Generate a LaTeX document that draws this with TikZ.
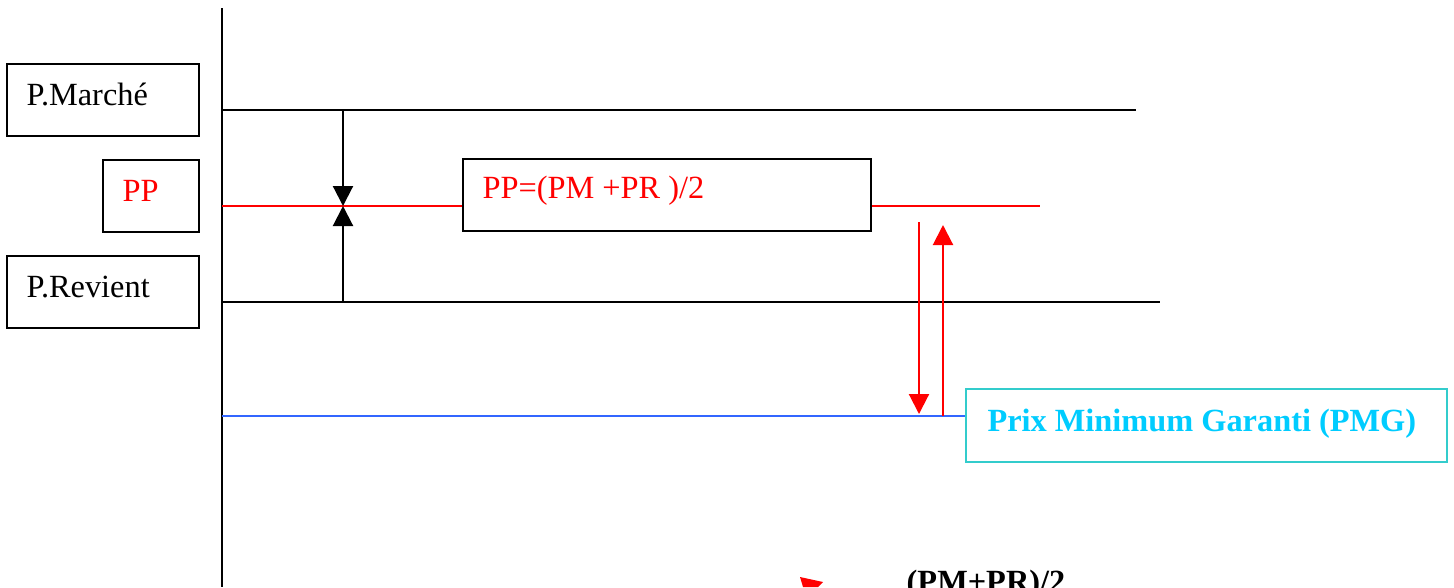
\documentclass[tikz,border=0pt]{standalone}
\usepackage{fontspec}
\setmainfont{Liberation Serif}
\usetikzlibrary{arrows.meta,calc}
\definecolor{pmgcyan}{HTML}{00CCFF}
\definecolor{pmgcadre}{HTML}{33CCCC}
\definecolor{pmgbleu}{HTML}{3366FF}
\tikzset{
  trait/.style={line width=0.6pt},
  boite/.style={draw, line width=0.6pt, inner sep=0pt, minimum height=0.72cm},
  texte/.style={anchor=base west, inner sep=0pt},
  pointe/.style={-{Triangle[length=0.2cm,width=0.2cm]}}
}
\begin{document}
\begin{tikzpicture}[x=0.01cm, y=-0.01cm, font=\fontsize{9.2pt}{11pt}\selectfont]
    \clip (0,0) rectangle (1454,587);

    % Axe vertical
    \coordinate (axehaut) at (222,8);
    \coordinate (axebas) at (222,587);
    \draw[trait] (axehaut) -- (axebas);

    % Boites de gauche
    \node[boite, minimum width=1.92cm] (bmarche) at (103,100) {};
    \node[texte] (tmarche) at ($(bmarche.west)+(20,5)$) {P.Marché};
    \node[boite, minimum width=0.96cm] (bpp) at (151,196) {};
    \node[texte, text=red] (tpp) at ($(bpp.west)+(20,5)$) {PP};
    \node[boite, minimum width=1.92cm] (brevient) at (103,292) {};
    \node[texte] (trevient) at ($(brevient.west)+(20,5)$) {P.Revient};

    % Niveaux de prix
    \coordinate (pmg) at (222,110);
    \coordinate (pmd) at (1136,110);
    \draw[trait] (pmg) -- (pmd);
    \coordinate (prg) at (222,302);
    \coordinate (prd) at (1160,302);
    \draw[trait] (prg) -- (prd);

    % Prix de la formule
    \node[boite, minimum width=4.08cm] (bformule) at (667,195) {};
    \node[texte, text=red] (tformule) at ($(bformule.west)+(20,3)$) {PP=(PM +PR )/2};
    \coordinate (ppg) at (222,206);
    \coordinate (ppd) at (1040,206);
    \draw[trait, red] (ppg) -- (ppg -| bformule.west);
    \draw[trait, red] (ppg -| bformule.east) -- (ppd);

    % Fleches vers PP
    \coordinate (fhaut) at (343,110);
    \coordinate (fmilieu) at (343,206);
    \coordinate (fbas) at (343,302);
    \draw[trait, pointe] (fhaut) -- (fmilieu);
    \draw[trait, pointe] (fbas) -- (fmilieu);

    % Prix minimum garanti
    \node[boite, draw=pmgcadre, minimum width=4.81cm, minimum height=0.73cm] (bpmg) at (1206.5,425.5) {};
    \node[texte, text=pmgcyan, font=\fontsize{9.2pt}{11pt}\selectfont\bfseries] (tpmg) at ($(bpmg.west)+(22,5.5)$) {Prix Minimum Garanti (PMG)};
    \coordinate (bleug) at (222,416);
    \draw[trait, pmgbleu] (bleug) -- (bleug -| bpmg.west);

    % Fleches rouges
    \coordinate (rdescd) at (919,222);
    \coordinate (rdesca) at (919,414);
    \coordinate (rmontd) at (943,416);
    \coordinate (rmonta) at (943,225);
    \draw[trait, red, pointe] (rdescd) -- (rdesca);
    \draw[trait, red, pointe] (rmontd) -- (rmonta);

    % Bas de page
    \fill[red] (800,577) -- (823,582) -- (818,587) -- (803,587) -- cycle;
    \node[texte, font=\fontsize{9.2pt}{11pt}\selectfont\bfseries] (tbas) at (906,592) {(PM+PR)/2};
\end{tikzpicture}
\end{document}
